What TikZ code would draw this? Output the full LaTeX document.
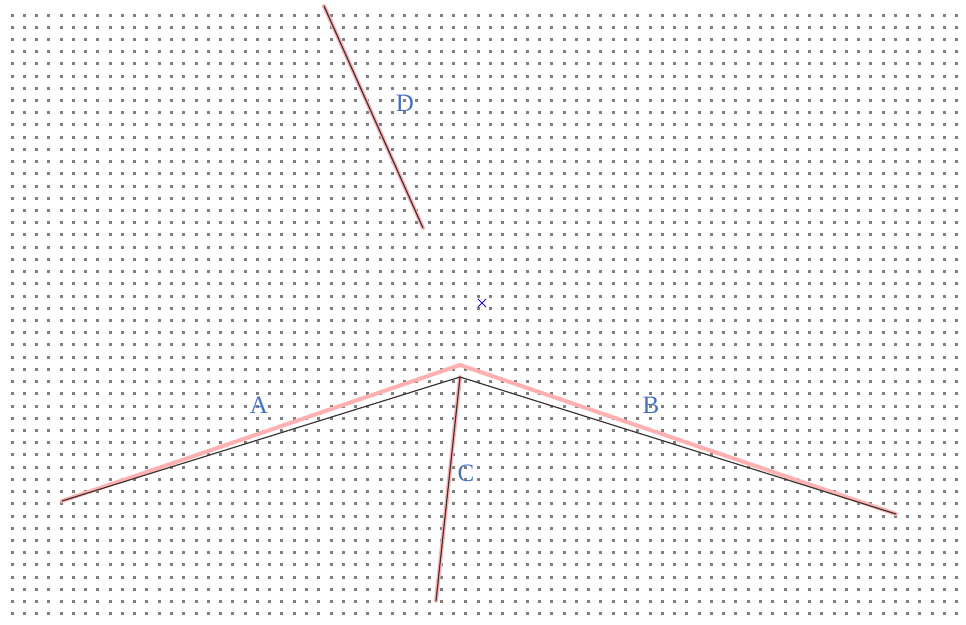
\documentclass[tikz,border=0pt]{standalone}
\usepackage{fontspec}
\setmainfont{Liberation Serif}
\definecolor{lblblue}{HTML}{4670C0}
\definecolor{edgecol}{HTML}{3C3434}
\definecolor{pinkhl}{HTML}{FFB0B0}
\begin{document}
\begin{tikzpicture}[x=1pt,y=-1pt,
  griddot/.style={fill=black!50},
  hilite/.style={draw=pinkhl, line width=4pt, line cap=round},
  edge/.style={draw=edgecol, line width=1.2pt},
  lbl/.style={text=lblblue, font=\fontsize{25}{25}\selectfont, inner sep=0pt}]
\useasboundingbox (0,0) rectangle (966,624);
\fill[white] (0,0) rectangle (966,624);
% dot grid
\foreach \i in {0,...,77}{
  \foreach \j in {0,...,49}{
    \fill[griddot] ({12+\i*12.27-1.5},{15+\j*12.22-1.5}) rectangle ++(3,3);
  }
}
% coordinates
\coordinate (aL) at (62,501);
\coordinate (apexD) at (460,377);
\coordinate (apexP) at (460,365);
\coordinate (bR) at (896,514);
\coordinate (cB) at (436,601);
\coordinate (dT) at (324,6);
\coordinate (dB) at (423,228);
% highlights
\draw[hilite] (aL) -- (apexP) -- (bR);
\draw[hilite] (apexD) -- (cB);
\draw[hilite] (dT) -- (dB);
% edges
\draw[edge] (aL) -- (apexD);
\draw[edge] (apexD) -- (bR);
\draw[edge] (apexD) -- (cB);
\draw[edge] (dT) -- (dB);
% marker
\node (mk) at (482,303) {};
\draw[blue!60!violet, line width=0.8pt] ([shift={(-4,-4)}]mk.center) -- ([shift={(4,4)}]mk.center)
  ([shift={(-4,4)}]mk.center) -- ([shift={(4,-4)}]mk.center);
% labels
\node[lbl] (A) at (259,405) {A};
\node[lbl] (B) at (651,405) {B};
\node[lbl] (C) at (466,473) {C};
\node[lbl] (D) at (405,103) {D};
\end{tikzpicture}
\end{document}
